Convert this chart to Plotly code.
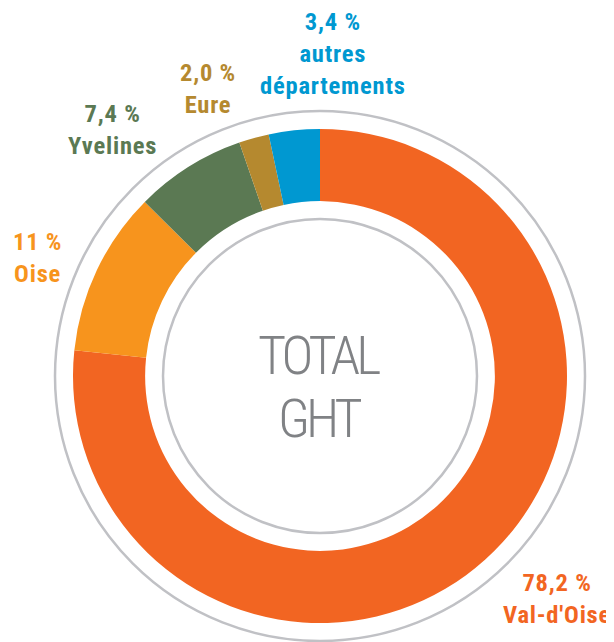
import plotly.graph_objects as go

# data
departements = ["Val-d'Oise", "Oise", "Yvelines", "Eure", "autres<br>départements"]
parts = [78.2, 11, 7.4, 2.0, 3.4]
couleurs = ["#F26522", "#F7941D", "#5B7953", "#B5892F", "#0098D1"]
centre_lignes = ["TOTAL", "GHT"]

# the page has an 8px body margin, so the figure is a bit smaller than the window
W, H = 606, 634
cx, cy, r = 312, 368, 247
label_xy = [(549, 590), (29, 249), (104, 121), (200, 81), (325, 46)]

fig = go.Figure()
fig.add_trace(go.Pie(
    labels=departements,
    values=parts,
    hole=0.708,
    sort=False,
    direction='clockwise',
    rotation=0,
    marker=dict(colors=couleurs, line=dict(width=0)),
    textinfo='none',
    hoverinfo='label+percent',
    showlegend=False,
    domain=dict(x=[(cx - r) / W, (cx + r) / W],
                y=[(H - cy - r) / H, (H - cy + r) / H]),
))

# grey rings
for rad in [265, 157]:
    fig.add_shape(type='circle', xref='paper', yref='paper',
                  x0=(cx - rad) / W, x1=(cx + rad) / W,
                  y0=(H - cy - rad) / H, y1=(H - cy + rad) / H,
                  line=dict(color='#C0C1C5', width=2.5))

# labels
for lab, val, col, (px, py) in zip(departements, parts, couleurs, label_xy):
    lignes = [f"{str(val).replace('.', ',')} %"] + lab.split('<br>')
    txt = '<br>'.join(f"<span style='font-stretch:75%;letter-spacing:0.8px'>{l}</span>" for l in lignes)
    fig.add_annotation(x=px / W, y=1 - py / H, xref='paper', yref='paper',
                       text=txt, showarrow=False, xanchor='center', yanchor='middle',
                       font=dict(family='Roboto', size=24.5, color=col, weight='bold'))

# centre text
for ligne, py in zip(centre_lignes, [347, 410]):
    fig.add_annotation(x=(cx - 1) / W, y=1 - py / H, xref='paper', yref='paper',
                       text=f"<span style='font-stretch:75%;letter-spacing:-4px'>{ligne}</span>",
                       showarrow=False, xanchor='center', yanchor='middle',
                       font=dict(family='Roboto', size=54, color='#808285', weight=300))

fig.update_layout(
    width=W, height=H,
    margin=dict(l=0, r=0, t=0, b=0),
    paper_bgcolor='white',
    plot_bgcolor='white',
)

fig.write_html("out.html")
